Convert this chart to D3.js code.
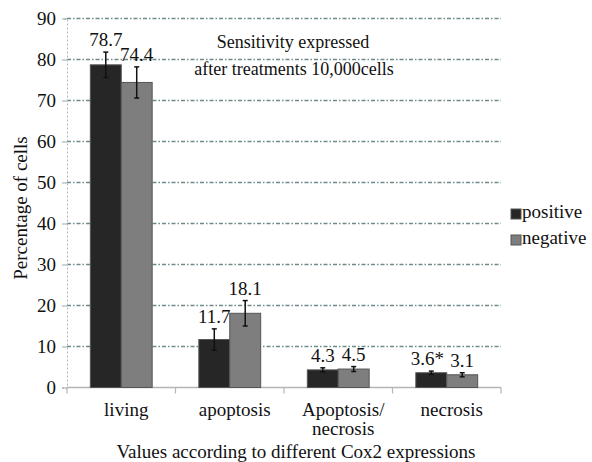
<!DOCTYPE html>
<html><head><meta charset="utf-8">
<script src="https://cdn.jsdelivr.net/npm/d3@7"></script>
<style>body{margin:0;background:#fff}svg{display:block}svg text{font-family:'Liberation Serif','Tinos','Times New Roman','Times','Nimbus Roman','Noto Serif','DejaVu Serif',serif !important;fill:#111}</style>
</head><body><svg id="c" width="592" height="462"></svg>
<script>
const categories = ["living", "apoptosis", "Apoptosis/\nnecrosis", "necrosis"];
const seriesNames = ["positive", "negative"];
const positiveValues = [78.7, 11.7, 4.3, 3.6];
const negativeValues = [74.4, 18.1, 4.5, 3.1];
const positiveErrors = [3.1, 2.6, 0.5, 0.4];
const negativeErrors = [3.8, 3.1, 0.6, 0.5];
const positiveLabels = ["78.7", "11.7", "4.3", "3.6*"];
const negativeLabels = ["74.4", "18.1", "4.5", "3.1"];
const yTicks = [0, 10, 20, 30, 40, 50, 60, 70, 80, 90];
const colors = {positive: "#262626", negative: "#7e7e7e"};

(function() {
const svg = d3.select("#c");
const mL = 67, mR = 501, mT = 18.5, mB = 387.5;
const x = d3.scaleBand().domain(categories).range([mL, mR]).paddingInner(0).paddingOuter(0);
const x1 = d3.scaleBand().domain(seriesNames).range([x.bandwidth()*0.215, x.bandwidth()*0.785]);
const y = d3.scaleLinear().domain([0, 90]).range([mB, mT]);

svg.append("g").selectAll("line").data(yTicks.filter(d => d > 0)).join("line")
  .attr("x1", mL).attr("x2", mR).attr("y1", d => y(d)).attr("y2", d => y(d))
  .attr("stroke", "#6f8a8a").attr("stroke-width", 1.3).attr("stroke-dasharray", "4,2,1.5,2");

const yAxis = d3.axisLeft(y).tickValues(yTicks).tickSize(5).tickPadding(6);
const ga = svg.append("g").attr("transform", `translate(${mL},0)`).call(yAxis);
ga.attr("font-family", null).attr("font-size", null);
ga.select(".domain").attr("stroke", "#aab4b4").attr("stroke-dasharray", "2,2");
ga.selectAll(".tick line").attr("stroke", "#9aa");
ga.selectAll(".tick text").attr("font-size", 19).attr("fill", "#111");

svg.append("line").attr("x1", mL).attr("x2", mR).attr("y1", mB).attr("y2", mB).attr("stroke", "#b5b5b5").attr("stroke-width", 1.5);
svg.append("g").selectAll("line").data(d3.range(categories.length + 1)).join("line")
  .attr("x1", i => mL + i * x.bandwidth()).attr("x2", i => mL + i * x.bandwidth())
  .attr("y1", mB).attr("y2", mB + 6).attr("stroke", "#b5b5b5").attr("stroke-width", 1.2);

const rows = categories.map((c, i) => ({c, vals: [
  {s: "positive", v: positiveValues[i], e: positiveErrors[i], l: positiveLabels[i]},
  {s: "negative", v: negativeValues[i], e: negativeErrors[i], l: negativeLabels[i]}]}));

const g = svg.append("g").selectAll("g").data(rows).join("g").attr("transform", d => `translate(${x(d.c)},0)`);
g.selectAll("rect").data(d => d.vals).join("rect")
  .attr("x", d => x1(d.s)).attr("width", x1.bandwidth()).attr("y", d => y(d.v)).attr("height", d => y(0) - y(d.v))
  .attr("fill", d => colors[d.s]).attr("stroke", "#555").attr("stroke-width", 1);
const eb = g.selectAll("g.eb").data(d => d.vals).join("g").attr("class", "eb");
eb.append("line").attr("x1", d => x1(d.s) + x1.bandwidth()/2).attr("x2", d => x1(d.s) + x1.bandwidth()/2)
  .attr("y1", d => y(d.v + d.e)).attr("y2", d => y(d.v - d.e)).attr("stroke", "#111").attr("stroke-width", 1.5);
eb.selectAll("line.cap").data(d => [[d, d.v + d.e], [d, d.v - d.e]]).join("line").attr("class", "cap")
  .attr("x1", d => x1(d[0].s) + x1.bandwidth()/2 - 2.5).attr("x2", d => x1(d[0].s) + x1.bandwidth()/2 + 2.5)
  .attr("y1", d => y(d[1])).attr("y2", d => y(d[1])).attr("stroke", "#111").attr("stroke-width", 1.5);
g.selectAll("text.val").data(d => d.vals).join("text").attr("class", "val")
  .attr("x", d => x1(d.s) + x1.bandwidth()/2 + (d.l.endsWith("*") ? -4 : 0)).attr("y", d => y(d.v + d.e) - 6)
  .attr("text-anchor", "middle").attr("font-size", 19).text(d => d.l);

svg.append("g").selectAll("text").data(categories).join("text")
  .attr("y", 416).attr("text-anchor", "middle").attr("font-size", 19)
  .each(function(d) {
    d.split("\n").forEach((t, i) => d3.select(this).append("tspan").attr("x", x(d) + x.bandwidth()/2 + 5).attr("dy", i ? 19 : 0).text(t));
  });

svg.append("text").attr("x", 296).attr("y", 458).attr("text-anchor", "middle").attr("font-size", 19)
  .text("Values according to different Cox2 expressions");
svg.append("text").attr("transform", "translate(27,208) rotate(-90)").attr("text-anchor", "middle").attr("font-size", 19)
  .text("Percentage of cells");

svg.append("text").attr("x", 293).attr("y", 48).attr("text-anchor", "middle").attr("font-size", 18).text("Sensitivity expressed");
svg.append("text").attr("x", 294).attr("y", 75).attr("text-anchor", "middle").attr("font-size", 18).text("after treatments 10,000cells");

const lg = svg.append("g").selectAll("g").data(seriesNames).join("g").attr("transform", (d, i) => `translate(511,${210 + i * 26})`);
lg.append("rect").attr("x", 0).attr("y", -1).attr("width", 10).attr("height", 10).attr("fill", d => colors[d]).attr("stroke", "#555");
lg.append("text").attr("x", 11).attr("y", 8).attr("font-size", 19).text(d => d);
})();
</script></body></html>
